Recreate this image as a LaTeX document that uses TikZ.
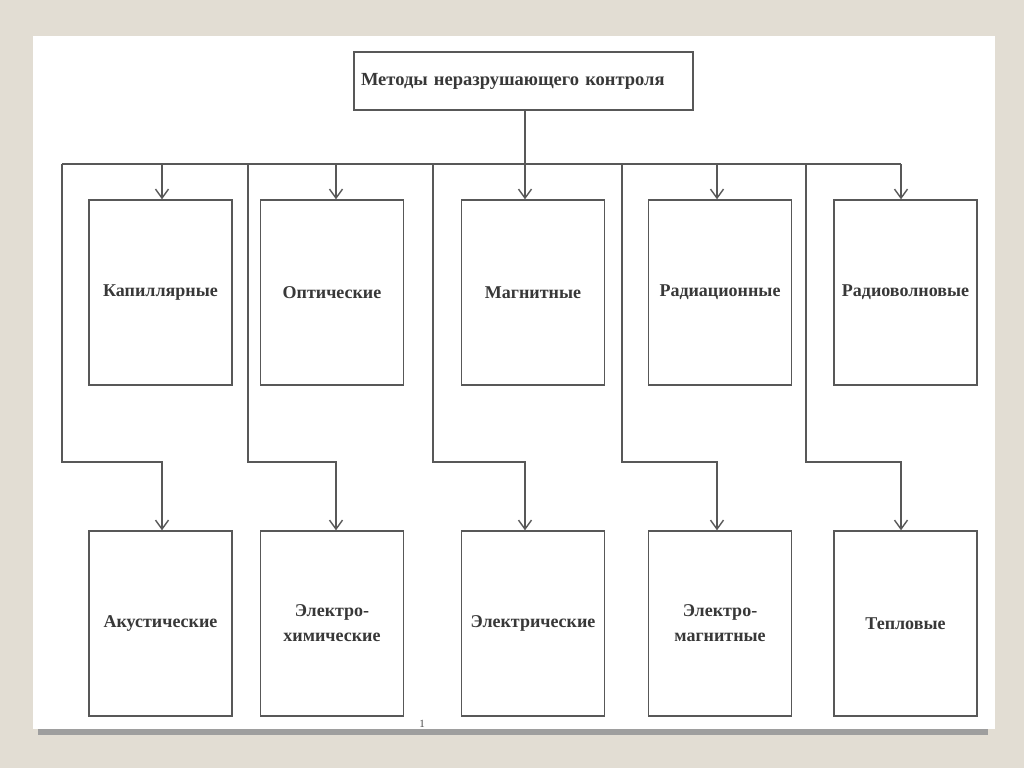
\documentclass[tikz,border=0pt]{standalone}
\usepackage{fontspec}
\setmainfont{Liberation Serif}
\usetikzlibrary{arrows.meta}
\definecolor{pagebg}{RGB}{226,221,211}
\definecolor{inkgray}{RGB}{88,88,88}

\begin{document}
\begin{tikzpicture}[x=1pt,y=-1pt,
		method/.style={draw=inkgray, line width=1.4pt, fill=white, minimum width=143pt, minimum height=185pt, inner sep=0pt, align=center, text=black!78, font=\bfseries\fontsize{18}{25}\selectfont},
		link/.style={draw=inkgray, line width=1.3pt},
		arr/.style={link, -{Straight Barb[length=9pt,width=13pt,line width=1.4pt]}}]
		
		\useasboundingbox (0,0) rectangle (1024,768);
		\fill[pagebg] (0,0) rectangle (1024,768);
		\fill[black!38] (38,729) rectangle (988,735);
		\fill[white] (33,36) rectangle (995,729);
		
		\node (root) at (523.5,81) [draw=inkgray, line width=1.4pt, minimum width=339pt, minimum height=58pt, text width=325pt, inner xsep=7pt, align=left, text=black!78, font=\bfseries\fontsize{18.5}{25}\selectfont] {Методы неразрушающего контроля};
		
		% upper and lower row of methods
		\foreach \i/\cx/\ax/\lx/\up/\down in {1/160.5/162/62/Капиллярные/Акустические,
			2/332/336/248/Оптические/{Электро-\\химические},
			3/533/525/433/Магнитные/Электрические,
			4/720/717/622/Радиационные/{Электро-\\магнитные},
			5/905.5/901/806/Радиоволновые/Тепловые} {
			\node (t\i) at (\cx,292.5) [method] {\up};
			\node (b\i) at (\cx,623.5) [method] {\down};
			\coordinate (bus\i) at (\ax,164);
			\coordinate (col\i) at (\lx,164);
			\coordinate (elb\i) at (\lx,462);
			\draw[arr] (bus\i) -- (bus\i |- t\i.north);
			\draw[arr] (col\i) -- (elb\i) -| (bus\i |- b\i.north);
		}
		
		\draw[link] (col1) -- (bus5);
		\draw[link] (root.south -| bus3) -- (bus3);
		
		\node (pgnum) at (422,724) [inner sep=0pt, text=black!70, font=\fontsize{11}{11}\selectfont] {1};
		
	\end{tikzpicture}
\end{document}
